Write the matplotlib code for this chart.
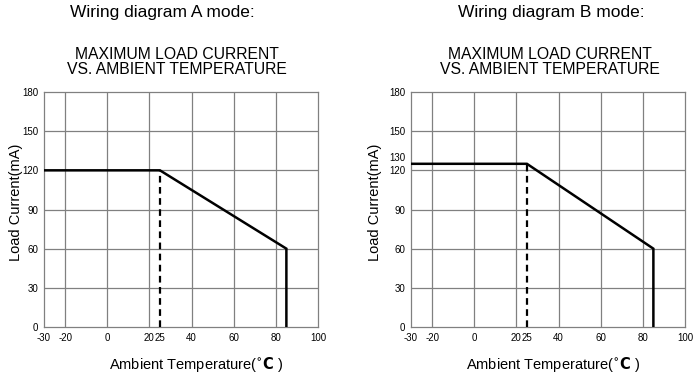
import matplotlib
matplotlib.use("Agg")
import matplotlib.pyplot as plt

plt.rcParams['font.family'] = ['Liberation Sans', 'DejaVu Sans']

# Data
modes = ["Wiring diagram A mode:", "Wiring diagram B mode:"]
curve_x = [-30, 25, 85, 85]
curve_y_A = [120, 120, 60, 0]
curve_y_B = [125, 125, 60, 0]
knee_x = 25
xtick_vals = [-30, -20, 0, 20, 25, 40, 60, 80, 100]
ytick_vals_A = [0, 30, 60, 90, 120, 150, 180]
ytick_vals_B = [0, 30, 60, 90, 120, 130, 150, 180]
grid_x = [-20, 0, 20, 40, 60, 80]
grid_y = [30, 60, 90, 120, 150]
subtitle = "MAXIMUM LOAD CURRENT\nVS. AMBIENT TEMPERATURE"

fig = plt.figure(figsize=(7, 3.8), dpi=100)

lefts = [44 / 700, 411 / 700]
curves = [curve_y_A, curve_y_B]
yticks = [ytick_vals_A, ytick_vals_B]
title_cx = [162, 551]
sub_cx = [177, 550]
xlab_cx = [0.555, 0.518]
ylab_cx = [-0.104, -0.130]
for i in range(2):
    ax = fig.add_axes([lefts[i], 1 - 327 / 380, 274 / 700, 235 / 380])
    ax.set_xlim(-30, 100)
    ax.set_ylim(0, 180)
    for gx in grid_x:
        ax.axvline(gx, color='#808080', lw=0.9, zorder=1)
    for gy in grid_y:
        ax.axhline(gy, color='#808080', lw=0.9, zorder=1)
    for s in ax.spines.values():
        s.set_color('#808080')
        s.set_linewidth(0.9)
    ax.plot(curve_x, curves[i], color='black', lw=1.8, zorder=3, solid_joinstyle='miter')
    ax.plot([knee_x, knee_x], [0, curves[i][1]], color='black', lw=1.6,
            ls=(0, (3, 2)), zorder=3)
    ax.set_xticks(xtick_vals)
    ax.set_xticklabels([str(v) for v in xtick_vals], fontsize=7)
    ax.set_yticks(yticks[i])
    ax.set_yticklabels([str(v) for v in yticks[i]], fontsize=7)
    ax.tick_params(length=0, pad=4)
    ax.set_ylabel("Load Current(mA)", fontsize=10.5)
    ax.yaxis.label.set_va('center')
    ax.yaxis.set_label_coords(ylab_cx[i], 0.532)
    ax.set_xlabel(r"Ambient Temperature($\mathbf{{}^{\circ}C}$ )", fontsize=10.5)
    ax.xaxis.label.set_va('center')
    ax.xaxis.set_label_coords(xlab_cx[i], -0.158)
    fig.text(title_cx[i] / 700, 1 - 12 / 380, modes[i], ha='center', va='center', fontsize=12.5)
    fig.text(sub_cx[i] / 700, 1 - 62 / 380, subtitle, ha='center', va='center', fontsize=11.3,
             linespacing=0.95)

fig.savefig("out.png", dpi=100, facecolor='white')
